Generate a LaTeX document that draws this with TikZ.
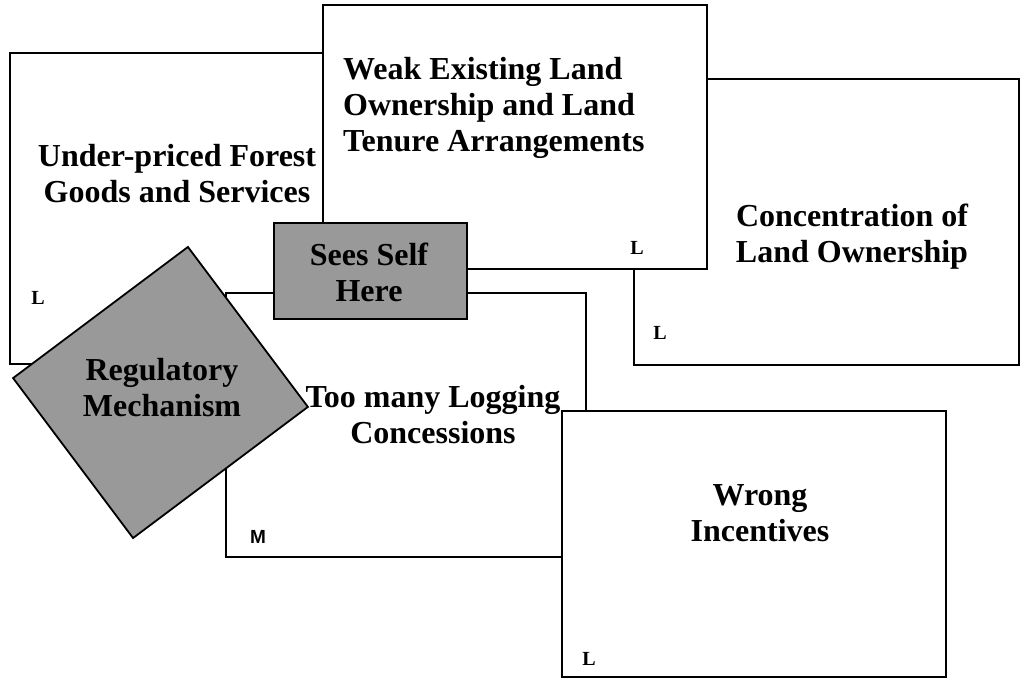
\documentclass[tikz,border=0pt]{standalone}
\usepackage{fontspec}
\setmainfont{Liberation Serif}
\newfontfamily\sansbold{Liberation Sans}[BoldFont={* Bold}]
\tikzset{
  box/.style={draw=black, fill=white, line width=1.8pt, inner sep=0pt, anchor=north west},
  graybox/.style={box, fill=gray60},
  maintext/.style={font=\fontsize{32}{36}\selectfont\bfseries, align=center, inner sep=0pt},
  corner/.style={font=\fontsize{20}{24}\selectfont\bfseries, inner sep=0pt},
}
\definecolor{gray60}{HTML}{999999}
\begin{document}
\begin{tikzpicture}[x=1pt, y=-1pt]
\useasboundingbox (0,0) rectangle (1021,687);

% Under-priced forest goods
\node[box, minimum width=331pt, minimum height=311pt] (under) at (9,52) {};
\node[maintext] (undertxt) at (177,174) {Under-priced Forest\\Goods and Services};
\node[corner] (underL) at (38,298) {L};

% Concentration of land ownership
\node[box, minimum width=385pt, minimum height=286pt] (conc) at (633,78) {};
\node[maintext] (conctxt) at (852,237) {Concentration of\\Land Ownership};
\node[corner] (concL) at (660,333) {L};

% Weak land tenure arrangements
\node[box, minimum width=384pt, minimum height=264pt] (weak) at (322,4) {};
\node[maintext, align=left, anchor=west] (weaktxt) at (343,108) {Weak Existing Land\\Ownership and Land\\Tenure Arrangements};
\node[corner] (weakL) at (637,248) {L};

% Too many logging concessions
\node[box, minimum width=360pt, minimum height=264pt] (logging) at (225,292) {};
\node[maintext] (loggingtxt) at (433,415) {Too many Logging\\Concessions};
\node[corner, font=\fontsize{19}{23}\selectfont\sansbold\bfseries] (loggingM) at (258,537) {M};

% Sees self here
\node[graybox, minimum width=193pt, minimum height=96pt] (self) at (273,222) {};
\node[maintext] (selftxt) at (369,272) {Sees Self\\Here};

% Regulatory mechanism (tilted)
\node[draw=black, fill=gray60, line width=1.8pt, inner sep=0pt,
      minimum width=200pt, minimum height=218.6pt, rotate=-53.13] (reg) at (160.5,392.5) {};
\node[maintext] (regtxt) at (162,388) {Regulatory\\Mechanism};

% Wrong incentives
\node[box, minimum width=384pt, minimum height=266pt] (wrong) at (561,410) {};
\node[maintext] (wrongtxt) at (760,513) {Wrong\\Incentives};
\node[corner] (wrongL) at (589,659) {L};
\end{tikzpicture}
\end{document}
